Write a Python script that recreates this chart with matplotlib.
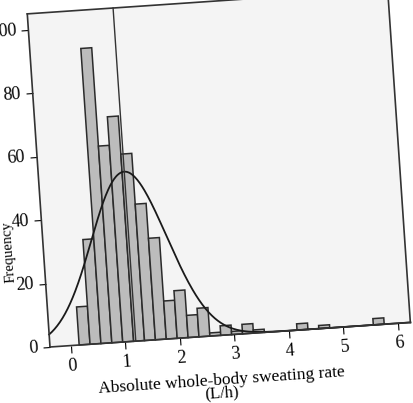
import numpy as np
import matplotlib
matplotlib.use("Agg")
import matplotlib.pyplot as plt
from matplotlib.transforms import Affine2D
import mpl_toolkits.axisartist.floating_axes as floating_axes
from mpl_toolkits.axisartist.grid_finder import FixedLocator, DictFormatter

plt.rcParams['font.family'] = ['Liberation Serif', 'DejaVu Serif']

# histogram of absolute whole-body sweating rate (L/h), bins of 0.2 L/h
first_edge = 0.15
bin_width = 0.2
counts = [12, 33, 93, 62, 71, 59, 43, 32, 12, 15, 7, 9, 1, 3, 1, 3, 1,
          0, 0, 0, 2, 0, 1, 0, 0, 0, 0, 2]
mean_rate = 1.19   # mean line / normal curve
sd_rate = 0.69

x_ticks = [0, 1, 2, 3, 4, 5, 6]
y_ticks = [0, 20, 40, 60, 80, 100]
x_label = "Absolute whole-body sweating rate"
x_unit = "(L/h)"
y_label = "Frequency"

x_lo, x_hi = -0.385, 6.23
y_lo, y_hi = 0, 105

# the scanned figure is tilted a few degrees
tilt = 3.9
tr = Affine2D().scale(54.6, 3.18).rotate_deg(tilt)

grid_helper = floating_axes.GridHelperCurveLinear(
    tr, extremes=(x_lo, x_hi, y_lo, y_hi),
    grid_locator1=FixedLocator(x_ticks),
    tick_formatter1=DictFormatter({t: str(t) for t in x_ticks}),
    grid_locator2=FixedLocator(y_ticks),
    tick_formatter2=DictFormatter({t: str(t) for t in y_ticks}))

W, H = 414, 403
fig = plt.figure(figsize=(W / 100, H / 100), dpi=100)

# place axes so the lower-left corner of the plot lands at pixel (50, 56)
corners = tr.transform([(x_lo, y_lo), (x_hi, y_lo), (x_lo, y_hi), (x_hi, y_hi)])
xmin, ymin = corners.min(axis=0)
xmax, ymax = corners.max(axis=0)
cx, cy = (xmin + xmax) / 2, (ymin + ymax) / 2
w, h = (xmax - xmin) * 1.02, (ymax - ymin) * 1.02
left = 50 - (corners[0, 0] - (cx - w / 2))
bottom = 56 - (corners[0, 1] - (cy - h / 2))

ax = fig.add_axes([left / W, bottom / H, w / W, h / H],
                  axes_class=floating_axes.FloatingAxes, grid_helper=grid_helper)
ax.patch.set_facecolor('#f4f4f4')
aux = ax.get_aux_axes(tr)

edges = first_edge + bin_width * np.arange(len(counts))
aux.bar(edges, counts, width=bin_width, align='edge', color='#bcbcbc',
        edgecolor='#2b2b2b', linewidth=1.1)

n = sum(counts)
xs = np.linspace(x_lo, x_hi, 500)
curve = n * bin_width * np.exp(-0.5 * ((xs - mean_rate) / sd_rate) ** 2) / (sd_rate * np.sqrt(2 * np.pi))
aux.plot(xs, curve, color='#1a1a1a', lw=1.3)
aux.plot([mean_rate, mean_rate], [y_lo, y_hi], color='#333333', lw=1.0)

for side in ['top', 'right']:
    ax.axis[side].major_ticks.set_visible(False)
    ax.axis[side].major_ticklabels.set_visible(False)
for side in ['bottom', 'left']:
    ax.axis[side].major_ticks.set_tick_out(True)
    ax.axis[side].major_ticks.set_ticksize(5)
    ax.axis[side].major_ticklabels.set_fontsize(13)
for side in ['top', 'right', 'bottom', 'left']:
    ax.axis[side].line.set_color('#333333')
    ax.axis[side].line.set_linewidth(1.2)

fig.text(222 / W, 1 - 381 / H, x_label, rotation=tilt, rotation_mode='anchor',
         ha='center', va='center', fontsize=12.5)
fig.text(222 / W, 1 - 393 / H, x_unit, rotation=tilt, rotation_mode='anchor',
         ha='center', va='center', fontsize=12)
fig.text(9 / W, 1 - 252 / H, y_label, rotation=90 + tilt, rotation_mode='anchor',
         ha='center', va='center', fontsize=10.5)

fig.savefig('out.png', dpi=100, facecolor='white')
